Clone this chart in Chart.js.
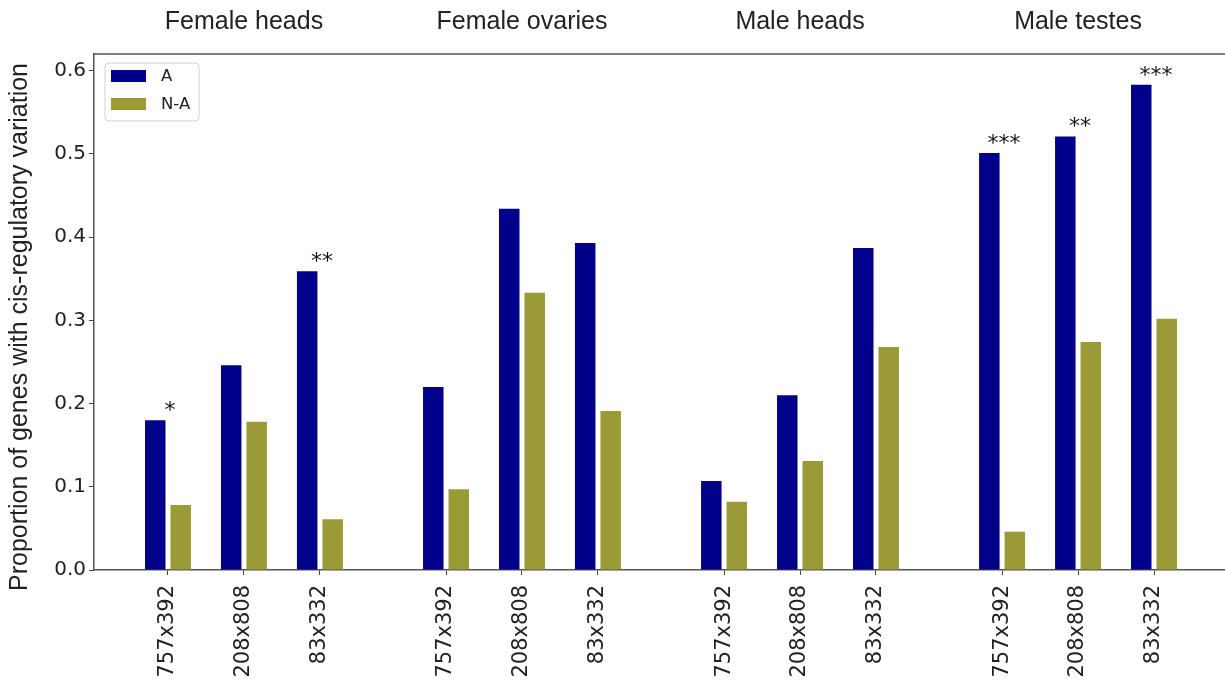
<!DOCTYPE html>
<html>
<head>
<meta charset="utf-8">
<script src="https://cdn.jsdelivr.net/npm/chart.js@4/dist/chart.umd.min.js"></script>
<style>
  html, body { margin: 0; padding: 0; background: #fff; overflow: hidden; }
  #wrap { width: 1228px; height: 681px; }
</style>
</head>
<body>
<div id="wrap"><canvas id="c" width="1228" height="681"></canvas></div>
<script>
// ---- data ----
const groups = ['Female heads', 'Female ovaries', 'Male heads', 'Male testes'];
const crosses = ['757x392', '208x808', '83x332'];
const seriesA = [0.180, 0.246, 0.359, 0.220, 0.434, 0.393, 0.107, 0.210, 0.387, 0.501, 0.521, 0.583];
const seriesNA = [0.078, 0.178, 0.061, 0.097, 0.333, 0.191, 0.082, 0.131, 0.268, 0.046, 0.274, 0.302];
const stars = ['*', '', '**', '', '', '', '', '', '', '***', '**', '***'];
const yTicks = [0.0, 0.1, 0.2, 0.3, 0.4, 0.5, 0.6];
const seriesNames = ['A', 'N-A'];
const colors = ['#00008B', '#9A9A36'];

// ---- layout helpers (positions on the x axis) ----
const GROUP_STEP = 3.66;
const positions = [];
const tickLabels = [];
groups.forEach((g, gi) => crosses.forEach((c, ci) => {
  positions.push(gi * GROUP_STEP + ci);
  tickLabels.push(c);
}));

const annot = {
  id: 'annot',
  afterDraw(chart) {
    const ctx = chart.ctx;
    const ca = chart.chartArea;
    const xs = chart.scales.x, ys = chart.scales.y;
    ctx.save();
    // top and right spines
    ctx.strokeStyle = '#555';
    ctx.lineWidth = 1.5;
    ctx.beginPath();
    ctx.moveTo(ca.left, ca.top);
    ctx.lineTo(ca.right, ca.top);
    ctx.lineTo(ca.right, ca.bottom);
    ctx.stroke();

    // group titles
    ctx.fillStyle = '#222';
    ctx.font = '25px "Liberation Sans", Arial, sans-serif';
    ctx.textAlign = 'center';
    ctx.textBaseline = 'middle';
    groups.forEach((g, gi) => {
      const x = xs.getPixelForValue(positions[gi * 3 + 1]);
      ctx.fillText(g, x, 22);
    });

    // y axis label
    ctx.save();
    ctx.translate(20, 327);
    ctx.rotate(-Math.PI / 2);
    ctx.font = '25px "Liberation Sans", Arial, sans-serif';
    ctx.fillStyle = '#222';
    ctx.textAlign = 'center';
    ctx.textBaseline = 'middle';
    ctx.fillText('Proportion of genes with cis-regulatory variation', 0, 0);
    ctx.restore();

    // significance stars
    ctx.font = '22px "DejaVu Sans", sans-serif';
    ctx.fillStyle = '#111';
    ctx.textAlign = 'center';
    ctx.textBaseline = 'alphabetic';
    stars.forEach((s, k) => {
      if (!s) return;
      const x = xs.getPixelForValue(positions[k]);
      const y = ys.getPixelForValue(seriesA[k]);
      ctx.fillText(s, x + 2, y - 3);
    });

    // legend box
    const lx = ca.left + 11, ly = ca.top + 9, lw = 94, lh = 58;
    ctx.fillStyle = 'rgba(255,255,255,0.9)';
    ctx.strokeStyle = '#d0d0d0';
    ctx.lineWidth = 1;
    ctx.beginPath();
    ctx.roundRect(lx, ly, lw, lh, 4);
    ctx.fill();
    ctx.stroke();
    ctx.font = '16.5px "DejaVu Sans", sans-serif';
    ctx.textAlign = 'left';
    ctx.textBaseline = 'middle';
    seriesNames.forEach((n, i) => {
      const py = ly + 7 + i * 28;
      ctx.fillStyle = colors[i];
      ctx.fillRect(lx + 6, py, 35, 12);
      ctx.fillStyle = '#222';
      ctx.fillText(n, lx + 56, py + 7);
    });
    ctx.restore();
  }
};

new Chart(document.getElementById('c'), {
  type: 'bar',
  data: {
    datasets: [
      { label: seriesNames[0], data: seriesA.map((v, k) => ({ x: positions[k], y: v })), backgroundColor: colors[0] },
      { label: seriesNames[1], data: seriesNA.map((v, k) => ({ x: positions[k], y: v })), backgroundColor: colors[1] }
    ]
  },
  options: {
    responsive: false,
    animation: false,
    devicePixelRatio: 1,
    categoryPercentage: 0.671,
    barPercentage: 0.804,
    layout: { padding: { top: 54, left: 0, right: 0, bottom: 0 } },
    plugins: { legend: { display: false }, tooltip: { enabled: false } },
    scales: {
      x: {
        type: 'linear',
        offset: false,
        min: -0.974,
        max: 3 * GROUP_STEP + 2 + 0.974,
        grid: { display: true, offset: false, drawOnChartArea: false, drawTicks: true, tickLength: 5, color: '#444', lineWidth: 1 },
        border: { display: true, color: '#555', width: 1.5 },
        ticks: {
          autoSkip: false, minRotation: 90, maxRotation: 90, padding: 10,
          font: { family: '"DejaVu Sans", sans-serif', size: 21 }, color: '#222',
          callback: (v, i) => tickLabels[i]
        },
        afterBuildTicks: ax => { ax.ticks = positions.map(v => ({ value: v })); },
        afterFit: ax => { ax.height = 111; }
      },
      y: {
        min: 0,
        max: 0.62,
        grid: { display: true, offset: false, drawOnChartArea: false, drawTicks: true, tickLength: 5, color: '#444', lineWidth: 1 },
        border: { display: true, color: '#555', width: 1.5 },
        ticks: {
          padding: 3, font: { family: '"DejaVu Sans", sans-serif', size: 20 }, color: '#222',
          callback: v => Number(v).toFixed(1)
        },
        afterBuildTicks: ax => { ax.ticks = yTicks.map(v => ({ value: v })); },
        afterFit: ax => { ax.width = 94; }
      }
    }
  },
  plugins: [annot]
});
</script>
</body>
</html>
